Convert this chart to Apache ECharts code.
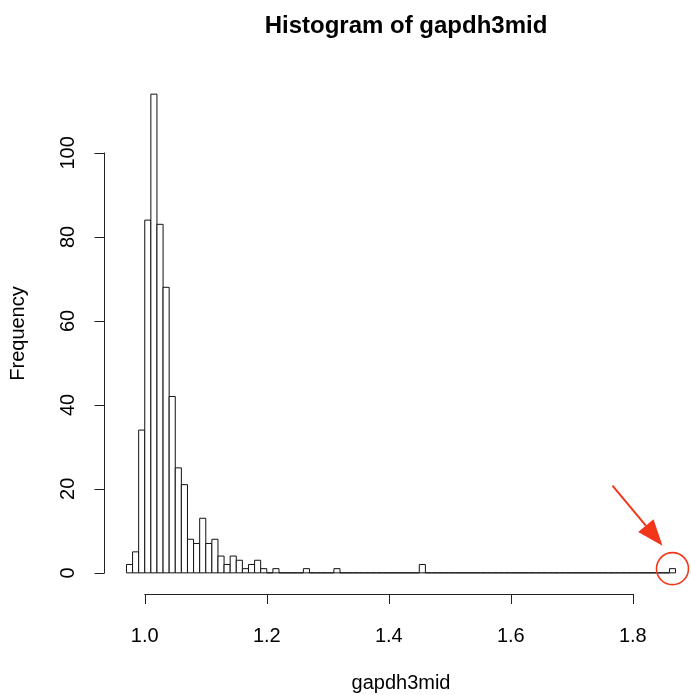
<!DOCTYPE html>
<html>
<head>
<meta charset="utf-8">
<script src="https://cdn.jsdelivr.net/npm/echarts@6/dist/echarts.min.js"></script>
<style>
  html, body { margin: 0; padding: 0; background: #fff; }
  #chart { width: 691px; height: 695px; }
</style>
</head>
<body>
<div id="chart"></div>
<script>
// Histogram bins: left edge of the first bin and the common bin width
const binStart = 0.97;
const binWidth = 0.01;

// Frequency per bin, 0.97 .. 1.87
const counts = [
  2, 5, 34, 84, 114, 83, 68, 42, 25, 21,
  8, 7, 13, 7, 8, 4, 2, 4, 3, 1,
  2, 3, 1, 0, 1, 0, 0, 0, 0, 1,
  0, 0, 0, 0, 1, 0, 0, 0, 0, 0,
  0, 0, 0, 0, 0, 0, 0, 0, 2, 0,
  0, 0, 0, 0, 0, 0, 0, 0, 0, 0,
  0, 0, 0, 0, 0, 0, 0, 0, 0, 0,
  0, 0, 0, 0, 0, 0, 0, 0, 0, 0,
  0, 0, 0, 0, 0, 0, 0, 0, 0, 1
];

// Axis tick values
const xTicks = [1.0, 1.2, 1.4, 1.6, 1.8];
const yTicks = [0, 20, 40, 60, 80, 100];

const titleText = 'Histogram of gapdh3mid';
const xName = 'gapdh3mid';
const yName = 'Frequency';

const FONT = '"Liberation Sans", Arial, Helvetica, sans-serif';

// Plot region (R style: data range padded by 4% on each side);
// it runs slightly past the right edge of the canvas.
const xLim = [0.934, 1.906];
const yLim = [-4.56, 118.56];
const plot = { left: 104.5, top: 75, width: 593, height: 517 };
const xAxisLineY = 594; // x axis sits just under the plot region
const xPx = v => plot.left + (v - xLim[0]) / (xLim[1] - xLim[0]) * plot.width;
const yPx = v => plot.top + (yLim[1] - v) / (yLim[1] - yLim[0]) * plot.height;

const bins = counts.map((c, i) => {
  const lo = +(binStart + i * binWidth).toFixed(2);
  const hi = +(binStart + (i + 1) * binWidth).toFixed(2);
  return [lo, hi, c];
});

// Highlighted outlier: the right-most non-empty bin
let outlierIdx = counts.length - 1;
while (outlierIdx > 0 && counts[outlierIdx] === 0) outlierIdx--;
const outlier = bins[outlierIdx];

const chart = echarts.init(document.getElementById('chart'), null, { renderer: 'canvas' });

const textStyle = { fontFamily: FONT, color: '#000', fontSize: 20 };
const axisLineStyle = { color: '#222', width: 1 };

chart.setOption({
  animation: false,
  backgroundColor: '#fff',
  title: {
    text: titleText,
    left: (plot.left + plot.width / 2),
    textAlign: 'center',
    top: 9,
    textStyle: { fontFamily: FONT, fontSize: 24, fontWeight: 'bold', color: '#000' }
  },
  grid: [
    // data region
    { left: plot.left, top: plot.top, width: plot.width, height: plot.height, outerBoundsMode: 'none', containLabel: false },
    // x axis drawn only over the labelled range
    { left: xPx(xTicks[0]), top: plot.top, width: xPx(xTicks[xTicks.length - 1]) - xPx(xTicks[0]), height: xAxisLineY - plot.top, outerBoundsMode: 'none', containLabel: false },
    // y axis drawn only over the labelled range
    { left: plot.left, top: yPx(yTicks[yTicks.length - 1]), width: plot.width, height: yPx(yTicks[0]) - yPx(yTicks[yTicks.length - 1]), outerBoundsMode: 'none', containLabel: false }
  ],
  xAxis: [
    {
      gridIndex: 0, type: 'value', min: xLim[0], max: xLim[1],
      axisLine: { show: false }, axisTick: { show: false }, axisLabel: { show: false }, splitLine: { show: false },
      name: xName, nameLocation: 'middle', nameGap: 81,
      nameTextStyle: textStyle
    },
    {
      gridIndex: 1, type: 'value', min: xTicks[0], max: xTicks[xTicks.length - 1], interval: 0.2,
      axisLine: { show: true, lineStyle: axisLineStyle },
      axisTick: { show: true, inside: false, length: 10, lineStyle: axisLineStyle },
      axisLabel: { show: true, margin: 32, formatter: v => v.toFixed(1), ...textStyle },
      splitLine: { show: false }
    },
    {
      gridIndex: 2, type: 'value', min: xLim[0], max: xLim[1], show: false
    }
  ],
  yAxis: [
    {
      gridIndex: 0, type: 'value', min: yLim[0], max: yLim[1],
      axisLine: { show: false }, axisTick: { show: false }, axisLabel: { show: false }, splitLine: { show: false },
      name: yName, nameLocation: 'middle', nameGap: 76, nameRotate: 90,
      nameTextStyle: textStyle
    },
    {
      gridIndex: 1, type: 'value', min: 0, max: 1, show: false
    },
    {
      gridIndex: 2, type: 'value', min: yTicks[0], max: yTicks[yTicks.length - 1], interval: 20,
      axisLine: { show: true, lineStyle: axisLineStyle },
      axisTick: { show: true, inside: false, length: 10, lineStyle: axisLineStyle },
      axisLabel: { show: true, margin: 26, rotate: 90, ...textStyle },
      splitLine: { show: false }
    }
  ],
  series: [
    {
      // histogram rectangles (empty bins collapse to a line on zero)
      type: 'custom',
      xAxisIndex: 0, yAxisIndex: 0,
      data: bins,
      clip: false,
      renderItem: (params, api) => {
        const p0 = api.coord([api.value(0), api.value(2)]);
        const p1 = api.coord([api.value(1), 0]);
        return {
          type: 'rect',
          shape: { x: p0[0], y: p0[1], width: p1[0] - p0[0], height: p1[1] - p0[1] },
          style: { fill: '#fff', stroke: '#111', lineWidth: 1 }
        };
      }
    },
    {
      // red ring and arrow pointing at the outlier bin
      type: 'custom',
      xAxisIndex: 0, yAxisIndex: 0,
      data: [[(outlier[0] + outlier[1]) / 2, outlier[2]]],
      clip: false,
      silent: true,
      renderItem: (params, api) => {
        const c = api.coord([api.value(0), api.value(1)]);
        const red = '#f2361c';
        const start = [c[0] - 60, c[1] - 83];
        const tip = [c[0] - 10, c[1] - 23];
        const dx = tip[0] - start[0], dy = tip[1] - start[1];
        const len = Math.hypot(dx, dy);
        const ux = dx / len, uy = dy / len;
        const headLen = 26, headHalf = 10;
        const base = [tip[0] - ux * headLen, tip[1] - uy * headLen];
        return {
          type: 'group',
          children: [
            {
              type: 'circle',
              shape: { cx: c[0], cy: c[1], r: 16 },
              style: { fill: 'none', stroke: red, lineWidth: 1.6 }
            },
            {
              type: 'line',
              shape: { x1: start[0], y1: start[1], x2: base[0], y2: base[1] },
              style: { stroke: red, lineWidth: 2 }
            },
            {
              type: 'polygon',
              shape: {
                points: [
                  tip,
                  [base[0] - uy * headHalf, base[1] + ux * headHalf],
                  [base[0] + uy * headHalf, base[1] - ux * headHalf]
                ]
              },
              style: { fill: red }
            }
          ]
        };
      }
    }
  ]
});
</script>
</body>
</html>
